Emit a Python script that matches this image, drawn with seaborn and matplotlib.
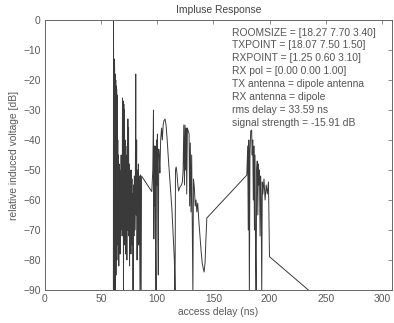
import matplotlib
matplotlib.use("Agg")
import matplotlib.pyplot as plt
import seaborn as sns
import pandas as pd

delay_ns = [
    60.9, 61.0, 61.4, 61.8, 62.0, 62.2, 62.4, 62.6, 62.8, 63.0, 63.2, 63.4, 63.6, 63.8, 64.0, 64.2,
    64.5, 64.8, 65.1, 65.4, 65.7, 66.0, 66.3, 66.6, 66.9, 67.2, 67.5, 67.8, 68.1, 68.4, 68.7, 69.0,
    69.3, 69.6, 69.9, 70.2, 70.5, 70.8, 71.1, 71.4, 71.7, 72.0, 72.3, 72.6, 72.9, 73.2, 73.5, 73.8,
    74.1, 74.4, 74.7, 75.0, 75.3, 75.6, 75.9, 76.2, 76.5, 76.8, 77.1, 77.4, 77.7, 78.0, 78.4, 78.8,
    79.2, 79.6, 80.0, 80.4, 80.8, 81.2, 81.6, 82.0, 82.4, 82.8, 83.2, 83.6, 84.0, 84.6, 85.0, 85.6,
    86.0, 95.1,
    96.0, 96.6, 96.9, 97.3, 97.6, 98.0, 98.4, 98.9, 99.3, 99.7, 100.1, 100.5, 100.9, 101.3, 101.8,
    102.3, 103.0, 103.8, 104.5, 105.2, 106.0, 106.9, 107.8, 108.8, 110.0, 111.5, 113.0, 114.3, 115.2,
    115.8, 116.2, 116.8, 117.5, 118.3, 119.0, 119.8, 120.5, 121.5, 122.3, 123.0, 123.6, 124.2, 124.7,
    125.2, 125.7, 126.2, 126.8, 127.6, 128.3, 128.8, 129.4, 130.0, 130.6, 131.2, 131.7, 132.2, 133.0,
    133.8, 134.5, 135.2, 136.0, 137.0, 138.0, 139.0, 140.0, 141.0, 141.7, 142.5, 143.3, 144.1,
    179.7, 180.5, 181.0, 181.5, 182.0, 182.5, 183.2, 184.0, 184.5, 185.0, 185.5, 186.0, 186.5, 187.0,
    187.5, 188.0, 188.5, 189.0, 189.5, 190.0, 190.5, 191.0, 191.5, 192.0, 192.5, 193.0, 193.5, 194.0,
    195.0, 196.0, 197.0, 198.0, 199.0, 199.9, 236.1,
]
voltage_db = [
    -92, 0, -91, -13, -16, -60, -92, -18, -75, -20, -85, -22, -70, -23, -80, -25,
    -60, -40, -75, -45, -82, -48, -65, -50, -78, -52, -70, -45, -68, -50, -72, -26,
    -60, -27, -92, -28, -75, -30, -70, -40, -78, -45, -65, -48, -80, -42, -70, -33,
    -60, -36, -72, -48, -82, -50, -70, -55, -78, -50, -66, -53, -75, -58, -92, -55,
    -72, -52, -70, -60, -18, -65, -40, -80, -50, -66, -48, -75, -52, -92, -51.6, -92,
    -52, -57.2,
    -50, -30, -73, -42, -62, -42, -75, -92, -40, -55, -38, -70, -85, -43, -46,
    -51, -40, -36, -40, -35, -33.5, -33, -35, -40, -47, -55, -63, -73, -80,
    -92, -50, -49, -51, -55, -57, -56, -55.5, -55, -54, -50, -35, -55, -35,
    -50, -36, -58, -36, -37, -38, -62, -41, -64, -45, -70, -92, -53, -56,
    -62, -60, -64, -61, -67, -72, -77, -81, -83, -84, -81, -73, -66,
    -51.7, -42, -70, -40, -92, -45, -37, -36.7, -45, -40, -60, -42, -70, -45,
    -78, -92, -50, -47, -65, -48, -55, -50, -72, -52, -60, -92, -54, -58,
    -53, -60, -55, -58, -54, -78.9, -90.5,
]
info_lines = [
    "ROOMSIZE = [18.27 7.70 3.40]",
    "TXPOINT = [18.07 7.50 1.50]",
    "RXPOINT = [1.25 0.60 3.10]",
    "RX pol = [0.00 0.00 1.00]",
    "TX antenna = dipole antenna",
    "RX antenna = dipole",
    "rms delay = 33.59 ns",
    "signal strength = -15.91 dB",
]
x_ticks = [0, 50, 100, 150, 200, 250, 300]
y_ticks = [0, -10, -20, -30, -40, -50, -60, -70, -80, -90]

sns.set_theme(style="white")
plt.rcParams["font.family"] = ["Liberation Sans", "DejaVu Sans"]
txt = "#5a5a5a"

fig = plt.figure(figsize=(3.94, 3.23), dpi=100)
ax = fig.add_axes([45 / 394, 1 - 290 / 323, 347 / 394, 270 / 323])

df = pd.DataFrame({"delay": delay_ns, "db": voltage_db})
sns.lineplot(data=df, x="delay", y="db", sort=False, estimator=None,
             color="#3a3a3a", linewidth=0.7, ax=ax)

ax.set_xlim(0, 309)
ax.set_ylim(-90, 0)
ax.set_xticks(x_ticks)
ax.set_yticks(y_ticks)
ax.tick_params(direction="in", length=3, width=0.6, top=True, right=True,
               labelsize=7.4, colors="#777777", labelcolor=txt, pad=3)
for s in ax.spines.values():
    s.set_color("#666666")
    s.set_linewidth(0.7)

ax.set_title("Impluse Response", fontsize=7.4, color="#444444", pad=5)
ax.set_xlabel("access delay (ns)", fontsize=7.4, color=txt, labelpad=2)
ax.set_ylabel("relative induced voltage [dB]", fontsize=7.4, color=txt, labelpad=3)

ax.text(0.538, 0.972, "\n".join(info_lines), transform=ax.transAxes,
        ha="left", va="top", fontsize=7.4, color="#555555", linespacing=1.36)

fig.savefig("out.png", dpi=100)
